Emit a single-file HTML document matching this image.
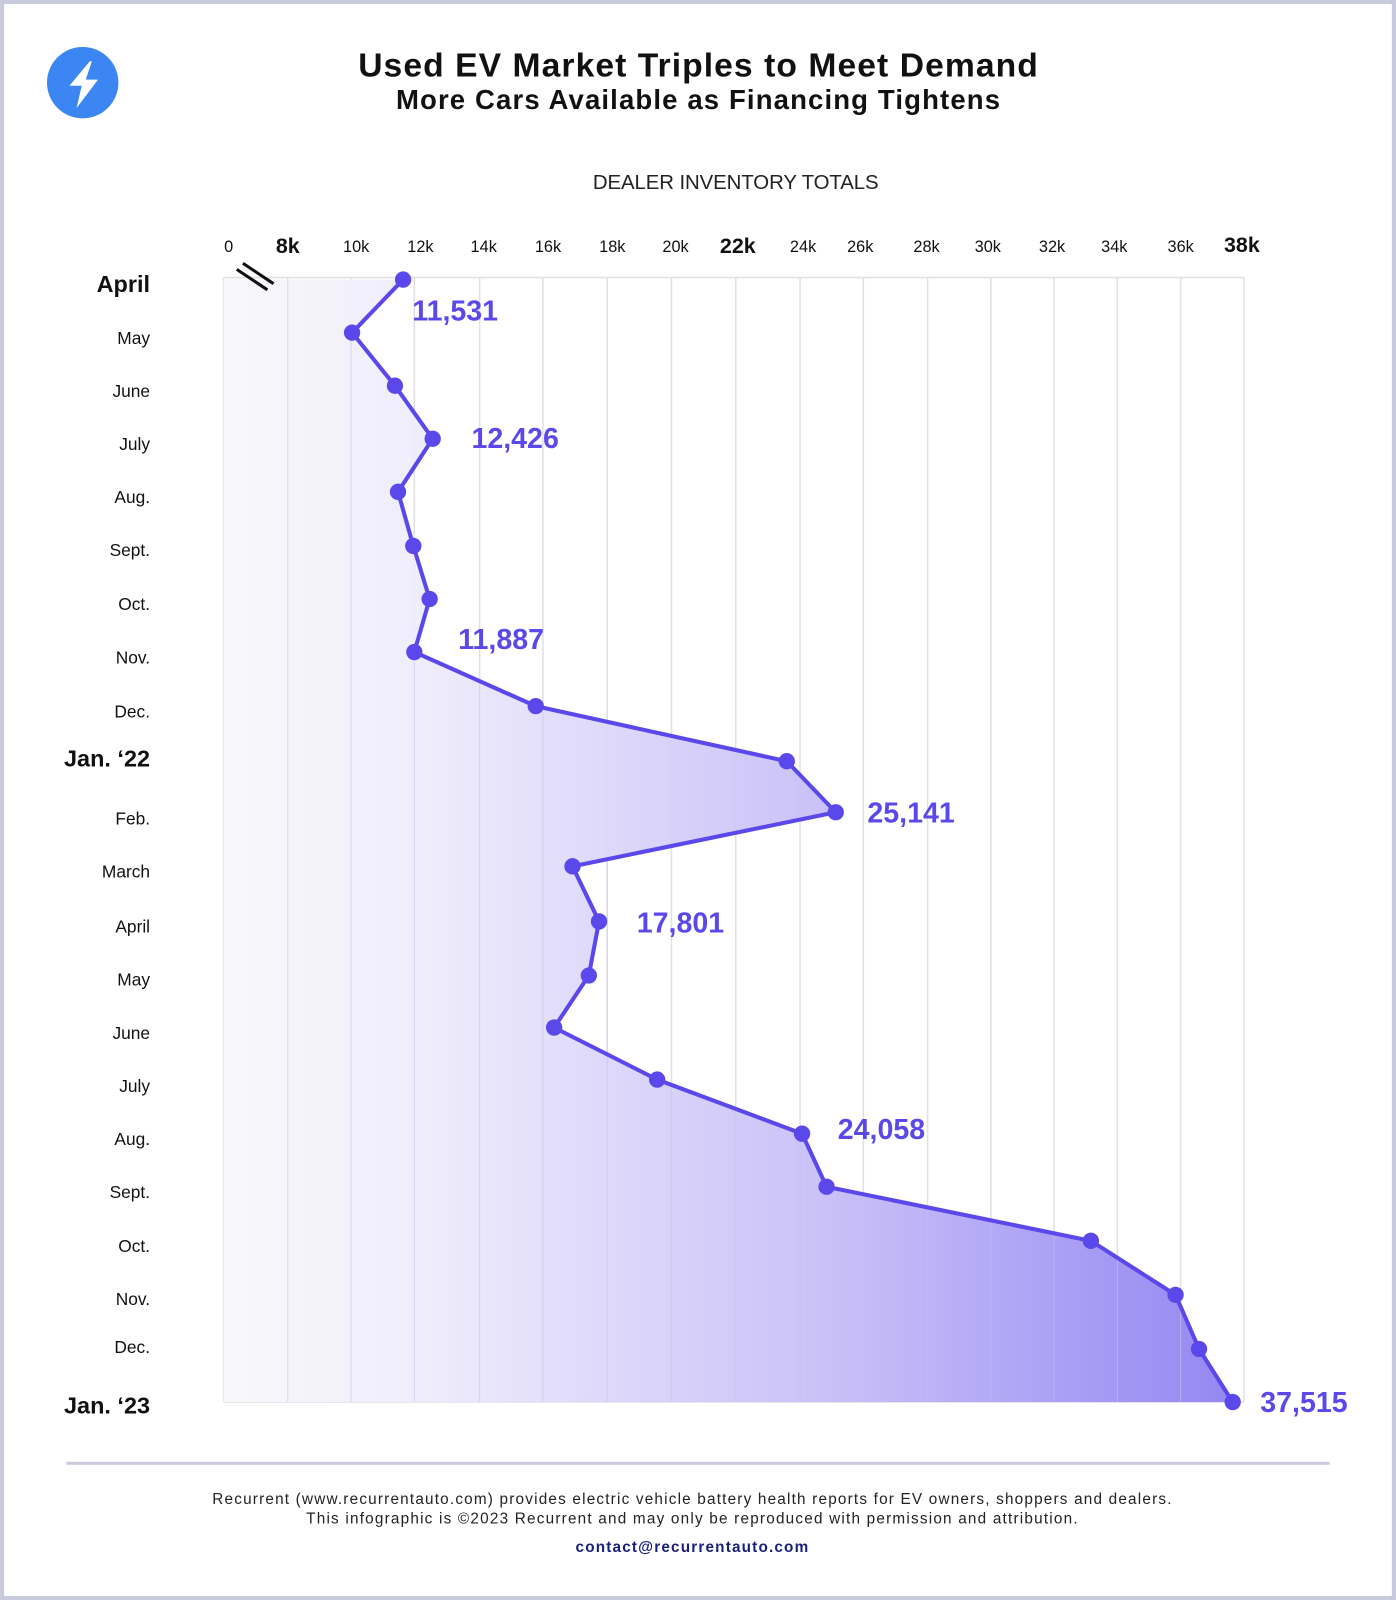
<!DOCTYPE html>
<html><head><meta charset="utf-8"><style>html,body{margin:0;padding:0;background:#fff}svg{display:block}</style></head>
<body>
<svg width="1396" height="1600" viewBox="0 0 1368 1568" xmlns="http://www.w3.org/2000/svg" font-family="Liberation Sans, sans-serif">
<defs>
<linearGradient id="g" x1="219" y1="0" x2="1219" y2="0" gradientUnits="userSpaceOnUse">
<stop offset="0" stop-color="#f8f8fa"/>
<stop offset="0.2" stop-color="#eeebfc"/>
<stop offset="0.6" stop-color="#c6bcf7"/>
<stop offset="1" stop-color="#8d7ff1"/>
</linearGradient>
</defs>
<rect x="2" y="2" width="1364" height="1564" fill="#fff" stroke="#c9cadc" stroke-width="4"/>
<circle cx="81" cy="81" r="35" fill="#3b86f2"/>
<polygon points="88,60 68,84 80,84 75,106 96,78 84,78 90,60" fill="#fff"/>
<text x="684" y="75" text-anchor="middle" font-size="33" font-weight="bold" fill="#111" textLength="666">Used EV Market Triples to Meet Demand</text>
<text x="684" y="107" text-anchor="middle" font-size="27" font-weight="bold" fill="#111" textLength="592">More Cars Available as Financing Tightens</text>
<text x="721" y="185" text-anchor="middle" font-size="20" fill="#222" textLength="280">DEALER INVENTORY TOTALS</text>
<g stroke="#e0e0e6" stroke-width="1.5">
<line x1="219" y1="272" x2="1219" y2="272"/>
<line x1="219" y1="1374" x2="1219" y2="1374"/>
<line x1="219" y1="272" x2="219" y2="1374"/><line x1="282" y1="272" x2="282" y2="1374"/><line x1="344" y1="272" x2="344" y2="1374"/><line x1="406" y1="272" x2="406" y2="1374"/><line x1="470" y1="272" x2="470" y2="1374"/><line x1="532" y1="272" x2="532" y2="1374"/><line x1="595" y1="272" x2="595" y2="1374"/><line x1="658" y1="272" x2="658" y2="1374"/><line x1="721" y1="272" x2="721" y2="1374"/><line x1="784" y1="272" x2="784" y2="1374"/><line x1="846" y1="272" x2="846" y2="1374"/><line x1="909" y1="272" x2="909" y2="1374"/><line x1="971" y1="272" x2="971" y2="1374"/><line x1="1033" y1="272" x2="1033" y2="1374"/><line x1="1095" y1="272" x2="1095" y2="1374"/><line x1="1157" y1="272" x2="1157" y2="1374"/><line x1="1219" y1="272" x2="1219" y2="1374"/>
</g>
<polygon fill="url(#g)" fill-opacity="0.95" points="219,274 395,274 345,326 387,378 424,430 390,482 405,535 421,587 406,639 525,692 771,746 819,796 561,849 587,903 577,956 543,1007 644,1058 786,1111 810,1163 1069,1216 1152,1269 1175,1322 1208,1374 219,1374"/>
<g stroke="#c9c3ee" stroke-width="1" opacity="0.6">
<line x1="282" y1="274" x2="282" y2="1374"/><line x1="344" y1="330" x2="344" y2="1374"/><line x1="406" y1="640" x2="406" y2="1374"/><line x1="470" y1="665" x2="470" y2="1374"/><line x1="532" y1="695" x2="532" y2="1374"/><line x1="595" y1="840" x2="595" y2="1374"/><line x1="658" y1="1063" x2="658" y2="1374"/><line x1="721" y1="1086" x2="721" y2="1374"/><line x1="784" y1="1110" x2="784" y2="1374"/><line x1="846" y1="1170" x2="846" y2="1374"/><line x1="909" y1="1183" x2="909" y2="1374"/><line x1="971" y1="1196" x2="971" y2="1374"/><line x1="1033" y1="1209" x2="1033" y2="1374"/><line x1="1095" y1="1233" x2="1095" y2="1374"/><line x1="1157" y1="1280" x2="1157" y2="1374"/>
</g>
<line x1="232" y1="264" x2="262" y2="284" stroke="#111" stroke-width="3"/>
<line x1="238" y1="258" x2="268" y2="278" stroke="#111" stroke-width="3"/>
<polyline fill="none" stroke="#5b48ea" stroke-width="4" stroke-linejoin="round" points="395,274 345,326 387,378 424,430 390,482 405,535 421,587 406,639 525,692 771,746 819,796 561,849 587,903 577,956 543,1007 644,1058 786,1111 810,1163 1069,1216 1152,1269 1175,1322 1208,1374"/>
<g fill="#5b48ea">
<circle cx="395" cy="274" r="8"/><circle cx="345" cy="326" r="8"/><circle cx="387" cy="378" r="8"/><circle cx="424" cy="430" r="8"/><circle cx="390" cy="482" r="8"/><circle cx="405" cy="535" r="8"/><circle cx="421" cy="587" r="8"/><circle cx="406" cy="639" r="8"/><circle cx="525" cy="692" r="8"/><circle cx="771" cy="746" r="8"/><circle cx="819" cy="796" r="8"/><circle cx="561" cy="849" r="8"/><circle cx="587" cy="903" r="8"/><circle cx="577" cy="956" r="8"/><circle cx="543" cy="1007" r="8"/><circle cx="644" cy="1058" r="8"/><circle cx="786" cy="1111" r="8"/><circle cx="810" cy="1163" r="8"/><circle cx="1069" cy="1216" r="8"/><circle cx="1152" cy="1269" r="8"/><circle cx="1175" cy="1322" r="8"/><circle cx="1208" cy="1374" r="8"/>
</g>
<g fill="#5b48ea" font-weight="bold" font-size="28">
<text x="404" y="314">11,531</text>
<text x="462" y="439">12,426</text>
<text x="449" y="636">11,887</text>
<text x="850" y="806">25,141</text>
<text x="624" y="914">17,801</text>
<text x="821" y="1116">24,058</text>
<text x="1235" y="1384">37,515</text>
</g>
<g font-size="16" fill="#111" text-anchor="middle">
<text x="224" y="247">0</text>
<text x="282" y="248" font-weight="bold" font-size="21">8k</text>
<text x="349" y="247">10k</text><text x="412" y="247">12k</text><text x="474" y="247">14k</text><text x="537" y="247">16k</text><text x="600" y="247">18k</text><text x="662" y="247">20k</text>
<text x="723" y="248" font-weight="bold" font-size="21">22k</text>
<text x="787" y="247">24k</text><text x="843" y="247">26k</text><text x="908" y="247">28k</text><text x="968" y="247">30k</text><text x="1031" y="247">32k</text><text x="1092" y="247">34k</text><text x="1157" y="247">36k</text>
<text x="1217" y="247" font-weight="bold" font-size="21">38k</text>
</g>
<g font-size="17" fill="#111" text-anchor="end">
<text x="147" y="286" font-weight="bold" font-size="23">April</text>
<text x="147" y="337">May</text><text x="147" y="389">June</text><text x="147" y="441">July</text><text x="147" y="493">Aug.</text><text x="147" y="545">Sept.</text><text x="147" y="598">Oct.</text><text x="147" y="650">Nov.</text><text x="147" y="703">Dec.</text>
<text x="147" y="751" font-weight="bold" font-size="23">Jan. ‘22</text>
<text x="147" y="808">Feb.</text><text x="147" y="860">March</text><text x="147" y="914">April</text><text x="147" y="966">May</text><text x="147" y="1018">June</text><text x="147" y="1070">July</text><text x="147" y="1122">Aug.</text><text x="147" y="1174">Sept.</text><text x="147" y="1227">Oct.</text><text x="147" y="1279">Nov.</text><text x="147" y="1326">Dec.</text>
<text x="147" y="1385" font-weight="bold" font-size="23">Jan. ‘23</text>
</g>
<line x1="65" y1="1434" x2="1303" y2="1434" stroke="#c9cadc" stroke-width="3"/>
<g font-size="15" fill="#222" text-anchor="middle">
<text x="678" y="1474" textLength="940">Recurrent (www.recurrentauto.com) provides electric vehicle battery health reports for EV owners, shoppers and dealers.</text>
<text x="678" y="1493" textLength="756">This infographic is ©2023 Recurrent and may only be reproduced with permission and attribution.</text>
<text x="678" y="1521" fill="#1a1f7a" font-weight="bold" textLength="228">contact@recurrentauto.com</text>
</g>
</svg>
</body></html>
